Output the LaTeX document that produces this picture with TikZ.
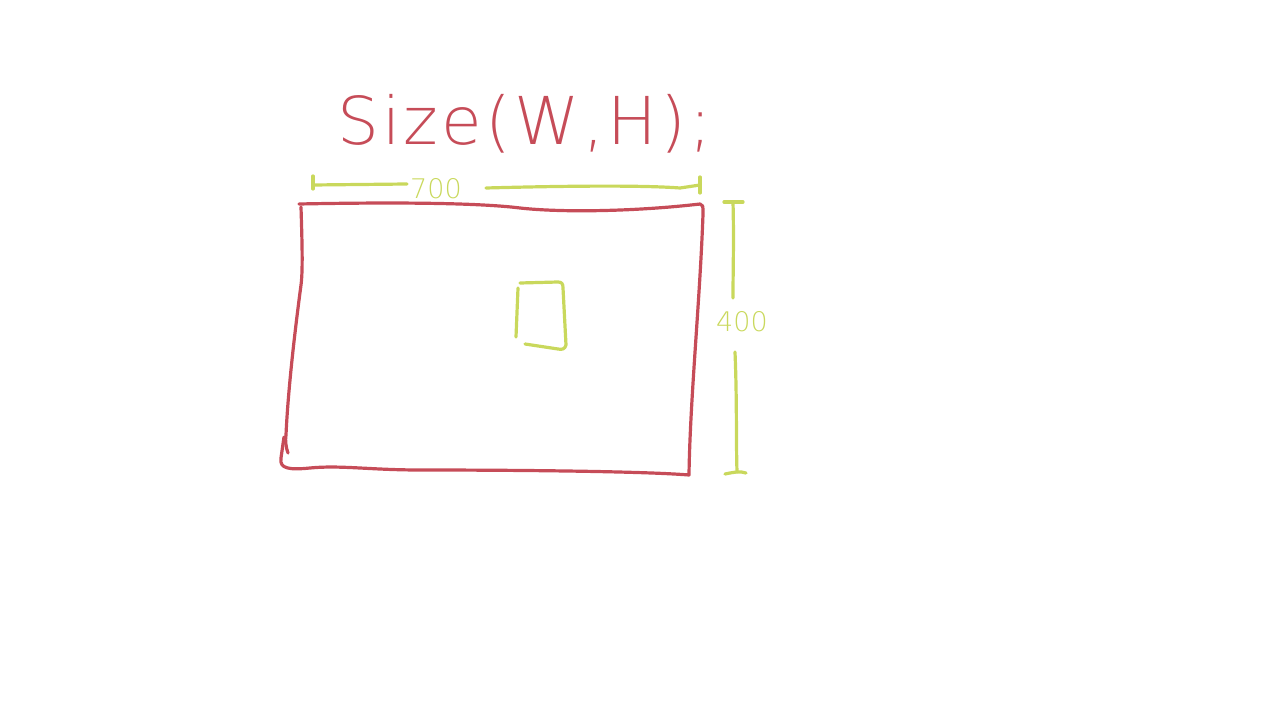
\documentclass[tikz,border=0pt]{standalone}
\usepackage{fontspec}
\newfontfamily\sketchfont[LetterSpace=5]{DejaVu Sans ExtraLight}
\newfontfamily\numfont{DejaVu Sans ExtraLight}
\definecolor{sketchred}{RGB}{198,76,88}
\definecolor{sketchgreen}{RGB}{201,216,92}
\begin{document}
\begin{tikzpicture}[x=1pt,y=-1pt,
  redline/.style={draw=sketchred,line width=3.2pt,line cap=round,line join=round},
  greenline/.style={draw=sketchgreen,line width=3.2pt,line cap=round,line join=round},
  dimlabel/.style={text=sketchgreen,font=\numfont\fontsize{27}{30}\selectfont,inner sep=0pt}]
\useasboundingbox (0,0) rectangle (1275,719);
% title
\node[anchor=base west,inner sep=0pt,text=sketchred,font=\sketchfont\fontsize{66}{70}\selectfont] (title) at (337,145) {Size(W,H);};
% red frame
\coordinate (tl) at (299,204);
\draw[redline] (tl) .. controls (400,202) and (480,203) .. (520,208)
  .. controls (565,213) and (640,211) .. (700,204)
  .. controls (703,205) .. (703,214)
  .. controls (700,300) and (690,400) .. (689,475)
  .. controls (640,471) and (500,470) .. (420,470)
  .. controls (370,470) and (340,465) .. (310,468)
  .. controls (290,470) and (279,469) .. (281,458)
  -- (284,437);
\draw[redline] (301,207) .. controls (302,240) and (303,270) .. (301,285)
  .. controls (295,330) and (288,390) .. (286,435)
  .. controls (285,440) and (286,448) .. (288,453);
% width dimension
\node[dimlabel,anchor=base] (w) at (436,199) {700};
\coordinate (wl) at (313,185);
\coordinate (wr) at (700,185);
\draw[greenline] (313,176) -- (313,189);
\draw[greenline] (700,177) -- (700,193);
\draw[greenline] (wl) -- (407,184);
\draw[greenline] (486,188) .. controls (560,186) and (640,185) .. (680,188) -- (wr);
% height dimension
\node[dimlabel,anchor=base] (h) at (742,332) {400};
\draw[greenline] (724,202) -- (743,202);
\draw[greenline] (733,202) .. controls (734,240) and (733,270) .. (733,298);
\draw[greenline] (735,352) .. controls (737,400) and (736,440) .. (737,472);
\draw[greenline] (725,474) .. controls (735,472) and (740,471) .. (746,473);
% small box
\draw[greenline] (518,288) -- (516,337);
\draw[greenline] (520,283) -- (558,282) .. controls (562,282) and (563,284) .. (563,288)
  -- (566,345) .. controls (565,349) and (562,350) .. (558,349) -- (525,344);
\end{tikzpicture}
\end{document}
